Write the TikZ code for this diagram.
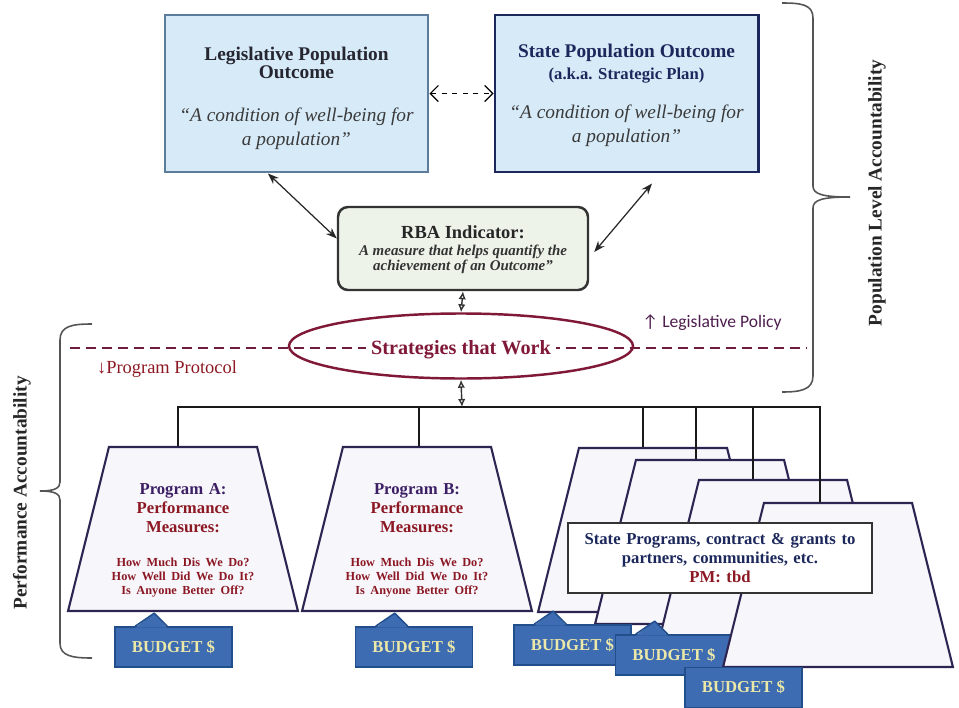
\documentclass[tikz,border=0pt]{standalone}
\usepackage{fontspec}
\setmainfont{Liberation Serif}
\newfontfamily\calib{Carlito}
\usepackage{tikz}
\usetikzlibrary{arrows.meta, positioning, shapes.geometric, calc}
\definecolor{outfill}{RGB}{214, 234, 248}
\definecolor{legborder}{RGB}{92, 124, 156}
\definecolor{navy}{RGB}{28, 40, 92}
\definecolor{titlegray}{RGB}{38, 38, 48}
\definecolor{quotegray}{RGB}{58, 58, 58}
\definecolor{rbafill}{RGB}{238, 243, 234}
\definecolor{maroon}{RGB}{128, 24, 56}
\definecolor{dashmaroon}{RGB}{110, 30, 60}
\definecolor{plum}{RGB}{78, 30, 78}
\definecolor{darkred}{RGB}{140, 24, 36}
\definecolor{trapline}{RGB}{45, 36, 82}
\definecolor{trapfill}{RGB}{246, 246, 251}
\definecolor{progpurple}{RGB}{60, 30, 100}
\definecolor{budgetblue}{RGB}{62, 108, 178}
\definecolor{budgetedge}{RGB}{34, 78, 140}
\definecolor{budgettext}{RGB}{236, 232, 168}
\definecolor{bracegray}{RGB}{85, 85, 85}

% body of a program trapezium: fixed height so every shape comes out alike
\newcommand{\trapbody}[1]{\vbox to 32.8mm{\vskip 0pt plus 1fil\vskip 4.4mm #1\vskip 0pt plus 1fil}}
\newcommand{\progmeasures}[1]{%
  \leavevmode{\color{progpurple}Program #1:}\\
  Performance\\
  Measures:\par
  \vspace{4mm}%
  {\fontsize{7}{8}\selectfont How Much Dis We Do?\\How Well Did We Do It?\\Is Anyone Better Off?\par}}

\begin{document}
\begin{tikzpicture}[x=0.2mm, y=-0.2mm,
    outcome/.style={draw, line width=1.7pt, fill=outfill, minimum width=52.6mm, minimum height=31.4mm, inner sep=0pt},
    titletxt/.style={font=\fontsize{11}{10.5}\selectfont\bfseries, align=center, inner sep=0pt},
    akatxt/.style={font=\fontsize{9.5}{11}\selectfont\bfseries, text=navy, inner sep=0pt},
    quotetxt/.style={font=\fontsize{11}{13.6}\selectfont\itshape, align=center, text=quotegray, inner sep=0pt},
    rbabox/.style={draw=black!80, line width=1.4pt, fill=rbafill, rounded corners=2mm, minimum width=50mm, minimum height=16.6mm},
    linkarrow/.style={{Stealth[length=2.2mm]}-{Stealth[length=2.2mm]}, line width=0.7pt, draw=black!85},
    dblarrow/.style={{Latex[length=1.6mm,width=1.5mm,open]}-{Latex[length=1.6mm,width=1.5mm,open]}, line width=0.8pt, draw=black!80},
    policyline/.style={draw=dashmaroon, line width=1.1pt, dash pattern=on 5.7pt off 3.4pt},
    strattxt/.style={fill=white, inner sep=3pt, text=maroon, font=\fontsize{11.5}{13}\selectfont\bfseries},
    trap/.style={trapezium, trapezium stretches=true, trapezium angle=76, draw=trapline, line width=1.2pt, fill=trapfill,
      minimum width=46mm, minimum height=32.8mm, inner sep=0pt, text width=29.6mm, align=center, text=darkred,
      font=\fontsize{9.5}{10.8}\selectfont\bfseries},
    budget/.style={draw=budgetedge, fill=budgetblue, line width=0.9pt, minimum width=23.4mm, minimum height=8mm,
      inner sep=0pt, text=budgettext, font=\fontsize{9.5}{11}\selectfont\bfseries},
    progbox/.style={draw=black!80, line width=0.9pt, fill=white, minimum width=60.8mm, minimum height=14mm,
      text width=58mm, align=center, text=navy, font=\fontsize{9.5}{11}\selectfont\bfseries},
    treeline/.style={draw=black!90, line width=0.8pt},
    bracepath/.style={draw=bracegray, line width=0.9pt},
    sidelabel/.style={rotate=90, font=\fontsize{11}{13}\selectfont\bfseries, text=black!85}
  ]
    \useasboundingbox (0,0) rectangle (959,708);

    % outcome boxes
    \node[outcome, draw=legborder] (legbox) at (296.5,93.5) {};
    \node[titletxt, text=titlegray] (legtitle) at (296.5,63) {Legislative Population\\Outcome};
    \node[quotetxt] (legquote) at (296.5,129) {``A condition of well-being for\\a population''};

    \node[outcome, draw=navy] (statebox) at (626.5,93.5) {};
    \node[titletxt, text=navy] (statetitle) at (626.5,53) {State Population Outcome};
    \node[akatxt] (stateaka) at (626.5,76) {(a.k.a. Strategic Plan)};
    \node[quotetxt] (statequote) at (626.5,126) {``A condition of well-being for\\a population''};

    \draw[dashed, line width=0.7pt, {Straight Barb[length=1.6mm]}-{Straight Barb[length=1.6mm]}] (legbox.east) -- (statebox.west);

    % indicator
    \node[rbabox] (rba) at (463,248.5) {};
    \node[font=\fontsize{10.5}{12}\selectfont\bfseries, text=black!85, inner sep=0pt] (rbatitle) at (463,232) {RBA Indicator:};
    \node[font=\fontsize{8.5}{8.6}\selectfont\bfseries\itshape, align=center, text=black!80, inner sep=0pt] (rbasub) at (463,259.5)
        {A measure that helps quantify the\\achievement of an Outcome''};

    \draw[linkarrow] ([xshift=-5.7mm]legbox.south) -- ([yshift=2mm]rba.west);
    \draw[linkarrow] ([xshift=5.1mm,yshift=-2mm]statebox.south) -- ([xshift=1mm,yshift=-0.7mm]rba.east);

    % strategies
    \coordinate (dashL) at (70,348);
    \coordinate (dashR) at (807,348);
    \draw[policyline] (dashL) -- (dashR);
    \node[ellipse, draw=maroon, line width=1.4pt, minimum width=68.8mm, minimum height=13mm] (strat) at (461,346) {};
    \node[strattxt] (stratlbl) at ([yshift=-0.8mm]strat.center) {Strategies that Work};
    \draw[dblarrow] (rba.south) -- (strat.north);

    \node[font=\calib\fontsize{10}{12}\selectfont, text=plum] (legpolicy) at (712,323) {↑ Legislative Policy};
    \node[font=\fontsize{10.5}{12}\selectfont, text=darkred] (protocol) at (167,369) {↓Program Protocol};

    % programs
    \node[trap] (trapA) at (183,529) {\trapbody{\progmeasures{A}}};
    \node[trap] (trapB) at (417,529) {\trapbody{\progmeasures{B}}};
    \node[trap] (trapC) at (653,530) {\trapbody{}};
    \node[trap] (trapD) at (710,542) {\trapbody{}};
    \node[trap] (trapE) at (773,562) {\trapbody{}};

    \node[budget] (budA) at (173.5,647) {BUDGET \$};
    \node[budget] (budB) at (414,647) {BUDGET \$};
    \node[budget] (budC) at (572.5,645) {BUDGET \$};
    \node[budget] (budD) at (674,655) {BUDGET \$};
    \foreach \b in {budA,budB,budC,budD} {
        \fill[budgetblue] ($(\b.north west)+(21,1.5)$) -- ++(19,-14.5) -- ++(13,14.5) -- cycle;
        \draw[budgetedge, line width=0.9pt, line join=round] ($(\b.north west)+(21,0)$) -- ++(19,-13) -- ++(13,13);
    }

    \node[trap] (trapF) at (838,585) {\trapbody{}};
    \node[budget] (budE) at (743.5,687.5) {BUDGET \$};

    \node[progbox] (stateprog) at (720,558) {State Programs, contract \& grants to\\partners, communities, etc.\\{\color{darkred}PM: tbd}};

    % tree
    \coordinate (bar) at (462,407);
    \coordinate (topA) at ([xshift=-1mm]trapA.north);
    \coordinate (topB) at ([xshift=0.4mm]trapB.north);
    \coordinate (topC) at ([xshift=-2mm]trapC.north);
    \coordinate (topD) at ([xshift=-2.8mm]trapD.north);
    \coordinate (topE) at ([xshift=-4mm]trapE.north);
    \coordinate (topF) at ([xshift=-3.6mm]trapF.north);
    \draw[treeline] (topA) |- (topF |- bar) -- (topF);
    \foreach \t in {B,C,D,E}
        \draw[treeline] (top\t) -- (top\t |- bar);
    \draw[dblarrow] (strat.south) -- (bar);

    % braces
    \draw[bracepath] (782,3) .. controls (800,3) and (813,4) .. (813,18) -- (813,186)
        .. controls (813,194) and (822,197) .. (850,197) .. controls (822,197) and (813,200) .. (813,208)
        -- (813,376) .. controls (813,390) and (800,392) .. (782,392);
    \node[sidelabel] (poplabel) at (877,193) {Population Level Accountability};

    \draw[bracepath] (92,324) .. controls (72,324) and (60,326) .. (60,340) -- (60,482)
        .. controls (60,488) and (55,491) .. (40,491) .. controls (55,491) and (60,494) .. (60,500)
        -- (60,643) .. controls (60,656) and (72,658) .. (92,658);
    \node[sidelabel] (perflabel) at (22,493) {Performance Accountability};
\end{tikzpicture}
\end{document}
